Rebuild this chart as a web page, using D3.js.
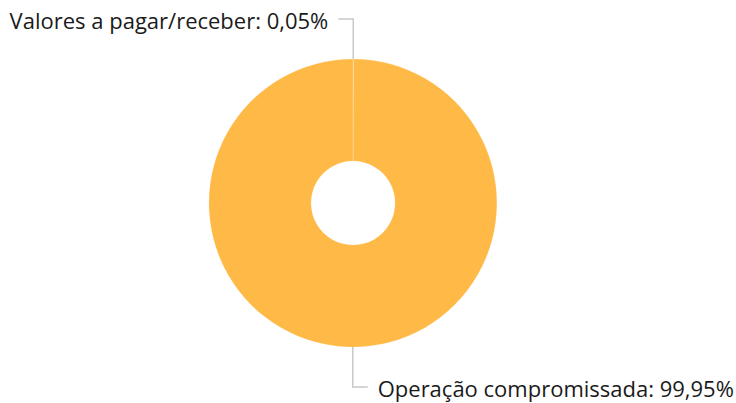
<!DOCTYPE html>
<html>
<head>
<meta charset="utf-8">
<script src="https://cdn.jsdelivr.net/npm/d3@7"></script>
<style>
  html, body { margin: 0; padding: 0; background: #fff; }
  svg { display: block; }
</style>
</head>
<body>
<svg id="chart" width="736" height="403"></svg>
<script>
const categories = ["Valores a pagar/receber", "Operação compromissada"];
const values = [0.05, 99.95];
const valueLabels = ["0,05%", "99,95%"];

const W = 736, H = 403;
const cx = 353, cy = 203;
const outerR = 144, innerR = 42;
const elbowR = 184, tail = 15, gap = 10;

const svg = d3.select("#chart");
const g = svg.append("g").attr("transform", `translate(${cx},${cy})`);

const color = d3.scaleOrdinal().domain(categories).range(["#FFB946", "#FFB946"]);

const pie = d3.pie().sort(null).value(d => d.v);
const data = pie(categories.map((c, i) => ({ c, v: values[i], lab: valueLabels[i] })));

const arc = d3.arc().innerRadius(innerR).outerRadius(outerR);

g.selectAll("path.slice").data(data).join("path")
  .attr("class", "slice")
  .attr("d", arc)
  .attr("fill", d => color(d.data.c))
  .attr("stroke", "#ffffff")
  .attr("stroke-opacity", 0.2)
  .attr("stroke-width", 0.8);

const mid = d => (d.startAngle + d.endAngle) / 2;
const pt = (a, r) => [Math.sin(a) * r, -Math.cos(a) * r];
const side = d => (mid(d) < Math.PI / 2 ? -1 : 1);

g.selectAll("path.leader").data(data).join("path")
  .attr("class", "leader")
  .attr("fill", "none")
  .attr("stroke", "#c8c8c8")
  .attr("stroke-width", 1.5)
  .attr("d", d => {
    const a = mid(d);
    const p0 = pt(a, outerR);
    const p1 = pt(a, elbowR);
    const p2 = [p1[0] + side(d) * tail, p1[1]];
    return d3.line()([p0, p1, p2]);
  });

g.selectAll("text.lbl").data(data).join("text")
  .attr("class", "lbl")
  .attr("x", d => pt(mid(d), elbowR)[0] + side(d) * (tail + gap))
  .attr("y", d => pt(mid(d), elbowR)[1] + 2)
  .attr("dy", "0.35em")
  .attr("text-anchor", d => side(d) < 0 ? "end" : "start")
  .attr("font-family", "'Open Sans', sans-serif")
  .attr("font-size", 22)
  .attr("fill", "#1a1a1a")
  .text(d => `${d.data.c}: ${d.data.lab}`);
</script>
</body>
</html>
